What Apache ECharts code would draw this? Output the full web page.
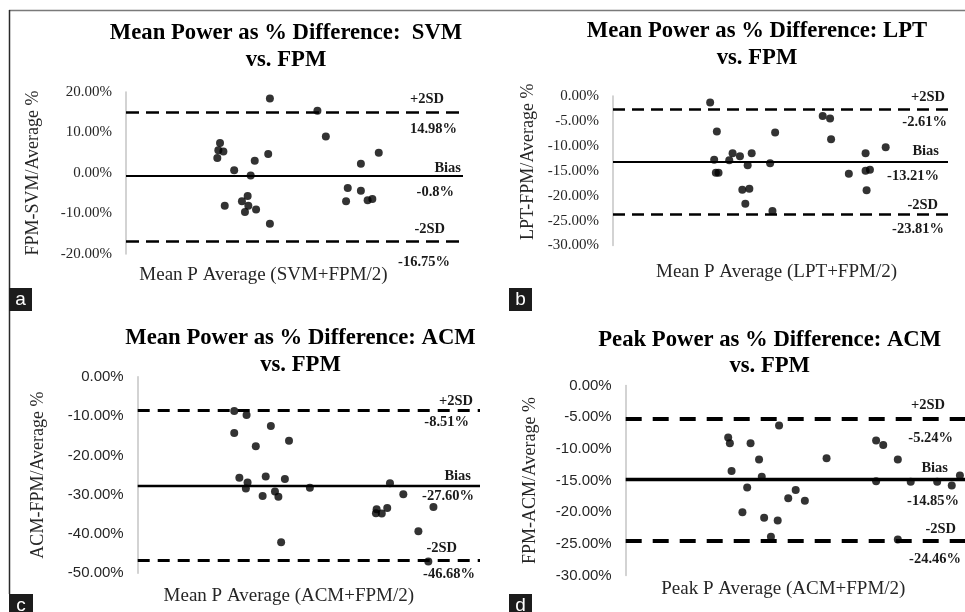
<!DOCTYPE html>
<html>
<head>
<meta charset="utf-8">
<script src="https://cdn.jsdelivr.net/npm/echarts@6/dist/echarts.min.js"></script>
<style>
html,body{margin:0;padding:0;background:#fff;}
#chart{width:965px;height:612px;}
</style>
</head>
<body>
<div id="chart"></div>
<script>
// ---- Data (x: relative position along the unlabeled x axis, y: % difference) ----
const aX = [42.7, 56.8, 59.3, 27.9, 27.4, 28.9, 27.1, 42.2, 38.2, 32.1, 37.0, 75.0, 69.7, 65.8, 69.7, 65.3, 71.7, 73.1, 36.1, 34.4, 36.3, 29.3, 35.3, 38.6, 42.7];
const aY = [18.4, 15.4, 9.0, 7.4, 5.6, 5.3, 3.7, 4.7, 3.0, 0.7, -0.6, 5.0, 2.3, -3.7, -4.4, -7.0, -6.7, -6.4, -5.7, -7.0, -8.1, -8.1, -9.6, -9.0, -12.5];
const aLimits = [14.98, -0.8, -16.75];
const aLimitText = ['14.98%', '-0.8%', '-16.75%'];

const bX = [29.0, 31.0, 48.4, 62.6, 64.8, 65.1, 81.4, 75.4, 35.7, 41.4, 30.2, 34.7, 37.9, 46.9, 40.2, 30.7, 31.5, 70.4, 75.4, 76.7, 38.6, 40.7, 75.7, 39.5, 47.6];
const bY = [-1.3, -7.1, -7.3, -4.0, -4.5, -8.7, -10.3, -11.5, -11.5, -11.5, -12.8, -12.9, -12.1, -13.5, -13.9, -15.4, -15.4, -15.6, -15.0, -14.8, -18.8, -18.6, -18.9, -21.6, -23.1];
const bLimits = [-2.61, -13.21, -23.81];
const bLimitText = ['-2.61%', '-13.21%', '-23.81%'];

const cX = [28.2, 31.8, 28.2, 38.9, 34.5, 44.2, 29.7, 37.4, 43.0, 32.1, 31.6, 50.3, 73.7, 36.5, 40.1, 41.1, 77.6, 86.4, 72.9, 69.8, 69.6, 71.3, 82.0, 41.9, 84.9];
const cY = [-8.7, -9.7, -14.3, -12.5, -17.7, -16.3, -25.7, -25.4, -26.0, -26.9, -28.4, -28.2, -27.1, -30.3, -29.2, -30.5, -29.9, -33.1, -33.4, -33.7, -34.7, -34.8, -39.3, -42.1, -47.0];
const cLimits = [-8.51, -27.60, -46.68];
const cLimitText = ['-8.51%', '-27.60%', '-46.68%'];

const dX = [30.2, 30.7, 45.2, 36.8, 31.2, 39.3, 40.1, 35.8, 59.2, 73.8, 75.9, 80.2, 73.8, 84.0, 91.8, 96.1, 98.5, 50.1, 47.9, 52.8, 34.4, 40.8, 44.8, 42.8, 80.2];
const dY = [-8.2, -9.1, -6.3, -9.1, -13.5, -11.7, -14.4, -16.1, -11.5, -8.7, -9.4, -11.7, -15.1, -15.2, -15.2, -15.8, -14.2, -16.5, -17.8, -18.2, -20.0, -20.9, -21.3, -23.9, -24.3];
const dLimits = [-5.24, -14.85, -24.46];
const dLimitText = ['-5.24%', '-14.85%', '-24.46%'];

const limitNames = ['+2SD', 'Bias', '-2SD'];

const titles = [
  'Mean Power as % Difference:  SVM\nvs. FPM',
  'Mean Power as % Difference: LPT\nvs. FPM',
  'Mean Power as % Difference: ACM\nvs. FPM',
  'Peak Power as % Difference: ACM\nvs. FPM'
];
const yNames = ['FPM-SVM/Average %', 'LPT-FPM/Average %', 'ACM-FPM/Average %', 'FPM-ACM/Average %'];
const xNames = ['Mean P Average (SVM+FPM/2)', 'Mean P Average (LPT+FPM/2)', 'Mean P Average (ACM+FPM/2)', 'Peak P Average (ACM+FPM/2)'];
const yRanges = [[-20, 20, 10], [-30, 0, 5], [-50, 0, 10], [-30, 0, 5]];

// ---- Layout / style ----
const SERIF = '"Liberation Serif", "Times New Roman", serif';
const SANS = '"Liberation Sans", Arial, sans-serif';
const panels = [
  {grid:{left:126, top:92, width:337, height:162}, tickFont:SERIF, yGap:84, yPad:[0,0,0,0], xGap:12, xPad:[0,62,0,0],
   title:{x:286, y:20, lh:27}, dashW:2.6, solidW:2, dash:[13,7],
   lab:[[[19,6],[6,9]], [[2,0],[9,9]], [[18,4],[13,14]]]},
  {grid:{left:613, top:96, width:335, height:149.5}, tickFont:SERIF, yGap:76, yPad:[0,0,0,18], xGap:17, xPad:[0,8,0,0],
   title:{x:757, y:18, lh:26.5}, dashW:2.6, solidW:2.2, dash:[12,7],
   lab:[[[3,4],[1,6]], [[9,3],[9,7]], [[10,2],[4,7]]]},
  {grid:{left:137.7, top:376.8, width:342.3, height:196.5}, tickFont:SANS, yGap:90, yPad:[0,0,0,0], xGap:13, xPad:[0,40,0,0],
   title:{x:300.5, y:325, lh:27}, dashW:3, solidW:2.3, dash:[12,8],
   lab:[[[7,1],[11,5]], [[9,2],[6,3]], [[23,5],[5,6]]]},
  {grid:{left:625.7, top:385.5, width:339.3, height:190}, tickFont:SANS, yGap:86, yPad:[0,0,0,0], xGap:4, xPad:[0,24,0,0],
   title:{x:769.7, y:327.5, lh:26}, dashW:4, solidW:3.4, dash:[16,11],
   lab:[[[20,6],[12,12]], [[17,4],[6,14]], [[9,4],[4,11]]]}
];

const xsAll = [aX, bX, cX, dX];
const ysAll = [aY, bY, cY, dY];
const limitsAll = [aLimits, bLimits, cLimits, dLimits];
const limitTextAll = [aLimitText, bLimitText, cLimitText, dLimitText];

const grids = [], xAxes = [], yAxes = [], series = [], graphics = [];

panels.forEach((p, i) => {
  grids.push(p.grid);
  xAxes.push({
    type:'value', gridIndex:i, min:0, max:100,
    axisLine:{show:false}, axisTick:{show:false}, axisLabel:{show:false}, splitLine:{show:false},
    name:xNames[i], nameLocation:'middle', nameGap:p.xGap,
    nameTextStyle:{fontFamily:SERIF, fontSize:19, color:'#262626', padding:p.xPad, verticalAlign:'top'}
  });
  yAxes.push({
    type:'value', gridIndex:i, min:yRanges[i][0], max:yRanges[i][1], interval:yRanges[i][2],
    axisLine:{show:true, lineStyle:{color:'#c4c4c4', width:1.5}}, axisTick:{show:false}, splitLine:{show:false},
    axisLabel:{fontFamily:p.tickFont, fontSize:15, color:'#262626', margin:14, formatter:v => v.toFixed(2) + '%'},
    name:yNames[i], nameLocation:'middle', nameGap:p.yGap,
    nameTextStyle:{fontFamily:SERIF, fontSize:18, color:'#262626', padding:p.yPad}
  });
  const lim = limitsAll[i];
  const mlData = [];
  lim.forEach((v, k) => {
    const solid = (k === 1);
    const ls = {color:'#000', width: solid ? p.solidW : p.dashW, type: solid ? 'solid' : p.dash, opacity:1};
    mlData.push({yAxis:v, lineStyle:ls,
      label:{show:true, position:'insideEndTop', distance:p.lab[k][0], formatter:limitNames[k],
             fontFamily:SERIF, fontWeight:'bold', fontSize:14.5, color:'#1a1a1a'}});
    mlData.push({yAxis:v, lineStyle:{color:'rgba(0,0,0,0)', width:1, type:'solid'},
      label:{show:true, position:'insideEndBottom', distance:p.lab[k][1], formatter:limitTextAll[i][k],
             fontFamily:SERIF, fontWeight:'bold', fontSize:14.5, color:'#1a1a1a', opacity:1}});
  });
  series.push({
    type:'scatter', xAxisIndex:i, yAxisIndex:i,
    data: xsAll[i].map((x, j) => [x, ysAll[i][j]]),
    symbolSize:8, itemStyle:{color:'#000'}, z:3,
    markLine:{silent:true, symbol:['none','none'], animation:false, data:mlData, z:2}
  });
  graphics.push({
    type:'text', x:p.title.x, y:p.title.y,
    style:{text:titles[i], fontFamily:SERIF, fontWeight:'bold', fontSize:22.7, lineHeight:p.title.lh,
           fill:'#000', align:'center', verticalAlign:'top'}
  });
});

// frame lines and panel letters
graphics.push({type:'line', shape:{x1:9, y1:10.5, x2:965, y2:10.5}, style:{stroke:'#7a7a7a', lineWidth:1.5}});
graphics.push({type:'line', shape:{x1:9.5, y1:10, x2:9.5, y2:594}, style:{stroke:'#2a2a2a', lineWidth:1.5}});
const letterBoxes = [['a', 9, 288, 23, 23], ['b', 509, 288, 23, 23], ['c', 9, 594, 24, 18], ['d', 509, 594, 23, 18]];
letterBoxes.forEach(b => {
  graphics.push({type:'rect', shape:{x:b[1], y:b[2], width:b[3], height:b[4]}, style:{fill:'#1c1c1c'}});
  graphics.push({type:'text', x:b[1] + b[3]/2, y:b[2] + 11.5, z:10,
    style:{text:b[0], fontFamily:SANS, fontSize:19, fill:'#fff', align:'center', verticalAlign:'middle'}});
});

const chart = echarts.init(document.getElementById('chart'), null, {renderer:'canvas'});
chart.setOption({
  animation:false,
  backgroundColor:'#fff',
  grid:grids, xAxis:xAxes, yAxis:yAxes, series:series, graphic:graphics
});
</script>
</body>
</html>
